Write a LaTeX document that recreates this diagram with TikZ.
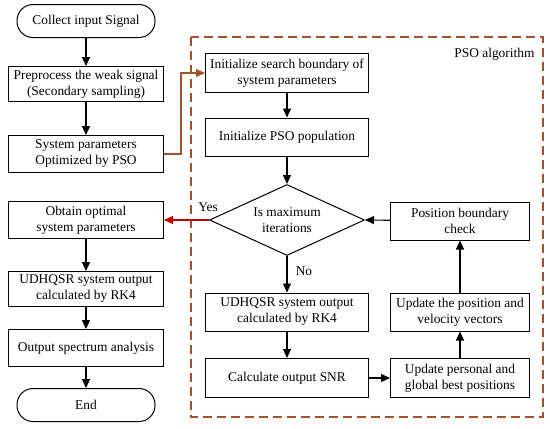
\documentclass[tikz,border=0pt]{standalone}
\usepackage{fontspec}
\setmainfont{Liberation Serif}
\usetikzlibrary{shapes.geometric,arrows.meta}
\definecolor{psobrown}{RGB}{160,82,45}
\definecolor{yesred}{RGB}{192,0,0}

\begin{document}
\begin{tikzpicture}[x=1pt,y=-1pt,
    every node/.style={font=\fontsize{13.4}{16}\selectfont},
    box/.style={draw,line width=1pt,align=center,inner sep=1pt,minimum height=37pt},
    lbox/.style={box,minimum width=155pt},
    rbox/.style={box,minimum width=163pt},
    cbox/.style={box,minimum width=139pt},
    term/.style={box,rounded corners=16pt,minimum width=138pt,minimum height=33pt},
    flow/.style={line width=1.1pt,-{Triangle[length=9pt,width=8pt]}}]
        \useasboundingbox (0,0) rectangle (550,429);
        % group of the PSO steps
        \draw[psobrown,line width=1.2pt,dash pattern=on 9pt off 5pt] (191,37) rectangle (543,417);
        \node[anchor=east] (psolabel) at (538,54) {PSO algorithm};
        % main column
        \node[term] (collect) at (86,21) {Collect input Signal};
        \node[lbox,minimum height=35pt] (preproc) at (86,84) {Preprocess the weak signal\\(Secondary sampling)};
        \node[lbox] (sysopt) at (86,154) {System parameters\\Optimized by PSO};
        \node[lbox] (optimal) at (86,220) {Obtain optimal\\system parameters};
        \node[lbox,minimum height=35pt] (udhleft) at (86,289) {UDHQSR system output\\calculated by RK4};
        \node[lbox] (spectrum) at (86,348) {Output spectrum analysis};
        \node[term] (finish) at (86,405) {End};
        % PSO loop
        \node[rbox,minimum height=39pt] (initbound) at (287,73) {Initialize search boundary of\\system parameters};
        \node[rbox,minimum height=38pt] (initpop) at (287,137) {Initialize PSO population};
        \node[diamond,draw,line width=1pt,align=center,inner sep=0pt,minimum width=155pt,minimum height=71pt,aspect=2.2] (maxiter) at (287,220) {Is maximum\\iterations};
        \node[cbox,minimum height=38pt] (bcheck) at (460,221) {Position boundary\\check};
        \node[rbox,minimum height=38pt] (udhright) at (287,312) {UDHQSR system output\\calculated by RK4};
        \node[cbox,minimum height=38pt] (velocity) at (460,312) {Update the position and\\velocity vectors};
        \node[rbox,minimum height=39pt] (snr) at (287,378) {Calculate output SNR};
        \node[cbox,minimum height=39pt] (personal) at (460,378) {Update personal and\\global best positions};
        % connectors
        \draw[flow] (collect) -- (preproc);
        \draw[flow] (preproc) -- (sysopt);
        \draw[flow,psobrown] (sysopt.east) -- ++(17,0) |- (initbound.west);
        \draw[flow] (initbound) -- (initpop);
        \draw[flow] (initpop) -- (maxiter);
        \draw[flow,yesred] (maxiter.west) -- (optimal.east);
        \node (yes) at (208,207) {Yes};
        \draw[flow] (optimal) -- (udhleft);
        \draw[flow] (udhleft) -- (spectrum);
        \draw[flow] (spectrum) -- (finish);
        \draw[flow] (maxiter.south) -- (udhright);
        \node (no) at (304,271) {No};
        \draw[flow] (udhright) -- (snr);
        \draw[flow] (snr) -- (personal);
        \draw[flow] (personal) -- (velocity);
        \draw[flow] (velocity) -- (bcheck);
        \draw[flow] (bcheck) -- (maxiter.east);
\end{tikzpicture}
\end{document}
